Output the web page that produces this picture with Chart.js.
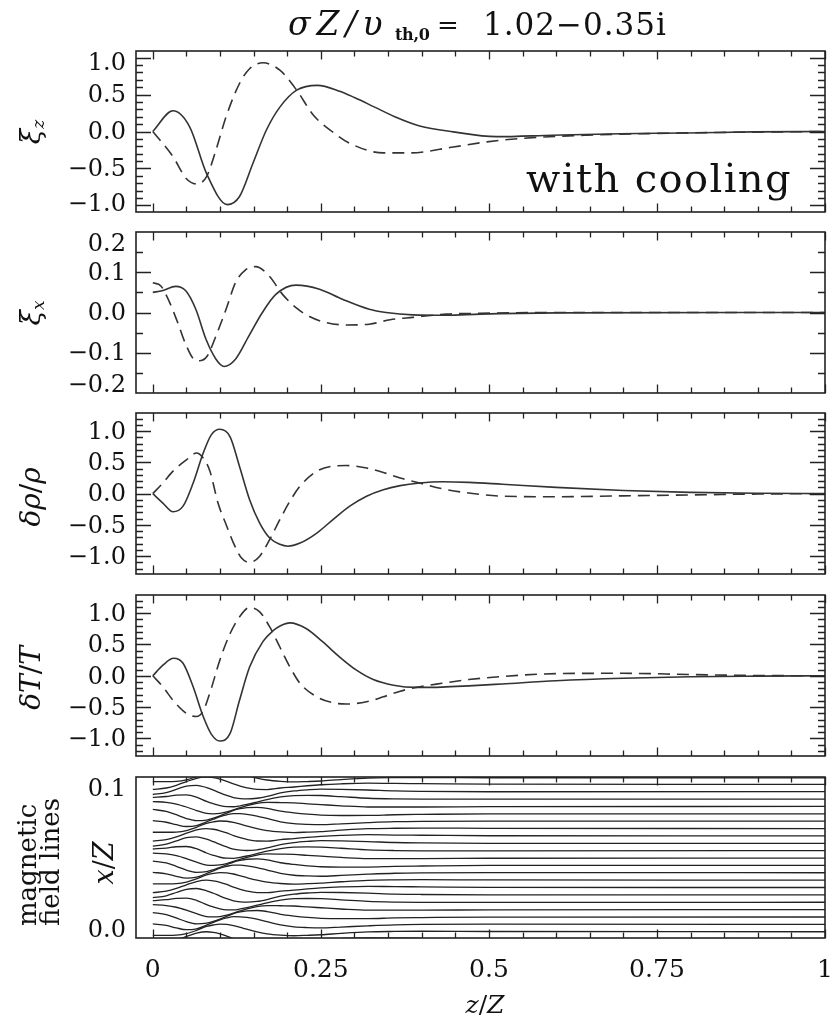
<!DOCTYPE html>
<html><head><meta charset="utf-8">
<script src="https://cdn.jsdelivr.net/npm/chart.js@4.4.0/dist/chart.umd.min.js"></script>
<style>
body{margin:0;background:#fff;width:837px;height:1019px;position:relative;overflow:hidden;font-family:'DejaVu Serif',serif;color:#111;}
canvas{position:absolute;left:0;}
.lbl{position:absolute;white-space:nowrap;line-height:1;}
.rot{transform:translate(-50%,-50%) rotate(-90deg);transform-origin:center;}
</style></head><body>

<script>
// ---------------- DATA ----------------
// panel 1: xi_z (solid = real part, dashed = imaginary part)
const z_xiz_re = [0,0.030,0.055,0.080,0.1107,0.129,0.149,0.169,0.189,0.214,0.245,0.278,0.30,0.33,0.36,0.397,0.447,0.511,0.595,0.695,0.794,0.893,1.0];
const xiz_re   = [0,0.28,0.06,-0.57,-0.99,-0.88,-0.43,0.02,0.33,0.56,0.625,0.545,0.46,0.33,0.20,0.075,-0.005,-0.07,-0.05,-0.03,-0.02,-0.005,0];
const z_xiz_im = [0,0.030,0.050,0.065,0.080,0.094,0.109,0.129,0.144,0.164,0.189,0.214,0.239,0.268,0.293,0.343,0.382,0.447,0.497,0.546,0.645,0.744,0.844,1.0];
const xiz_im   = [0,-0.34,-0.64,-0.71,-0.61,-0.25,0.2,0.65,0.85,0.93,0.83,0.56,0.22,-0.01,-0.16,-0.29,-0.29,-0.21,-0.14,-0.095,-0.05,-0.027,-0.013,0];

// panel 2: xi_x
const z_xix_re = [0,0.014,0.034,0.049,0.064,0.079,0.094,0.106,0.123,0.143,0.163,0.183,0.213,0.248,0.282,0.322,0.347,0.387,0.437,0.487,0.6,1.0];
const xix_re   = [0.05,0.054,0.065,0.054,0.008,-0.066,-0.116,-0.134,-0.116,-0.058,0,0.045,0.068,0.058,0.033,0.008,0,-0.006,-0.007,-0.004,-0.001,0];
const z_xix_im = [0,0.012,0.024,0.037,0.049,0.061,0.069,0.081,0.094,0.109,0.123,0.138,0.153,0.173,0.193,0.213,0.233,0.258,0.288,0.322,0.353,0.387,0.437,0.487,0.6,1.0];
const xix_im   = [0.074,0.066,0.029,-0.025,-0.079,-0.116,-0.12,-0.108,-0.058,0.008,0.074,0.106,0.114,0.091,0.045,0.012,-0.01,-0.025,-0.031,-0.029,-0.018,-0.012,-0.004,-0.002,0,0];

// panel 3: delta rho / rho
const z_rho_re = [0,0.015,0.030,0.045,0.060,0.075,0.087,0.0997,0.115,0.129,0.144,0.159,0.174,0.189,0.201,0.219,0.244,0.268,0.293,0.318,0.343,0.368,0.397,0.43,0.47,0.52,0.6,0.7,0.8,0.9,1.0];
const rho_re   = [0,-0.15,-0.29,-0.20,0.17,0.65,0.94,1.03,0.91,0.435,-0.096,-0.47,-0.71,-0.81,-0.84,-0.79,-0.63,-0.415,-0.2,-0.04,0.064,0.128,0.17,0.19,0.18,0.15,0.1,0.05,0.02,0.006,0];
const z_rho_im = [0,0.015,0.030,0.050,0.065,0.075,0.085,0.097,0.110,0.120,0.132,0.144,0.159,0.174,0.189,0.204,0.219,0.244,0.268,0.288,0.318,0.343,0.368,0.397,0.43,0.47,0.52,0.6,0.7,0.8,0.9,1.0];
const rho_im   = [0,0.17,0.36,0.54,0.65,0.57,0.36,-0.15,-0.52,-0.79,-1.03,-1.10,-1.0,-0.73,-0.415,-0.12,0.12,0.36,0.44,0.45,0.41,0.34,0.25,0.17,0.08,0.01,-0.04,-0.05,-0.035,-0.02,-0.006,0];

// panel 4: delta T / T
const z_T_re = [0,0.015,0.031,0.045,0.060,0.075,0.087,0.0997,0.115,0.129,0.144,0.164,0.179,0.19,0.204,0.228,0.253,0.278,0.303,0.328,0.358,0.392,0.43,0.47,0.52,0.6,0.7,0.8,0.9,1.0];
const T_re   = [0,0.17,0.28,0.20,-0.175,-0.65,-0.93,-1.04,-0.92,-0.39,0.14,0.55,0.72,0.80,0.845,0.755,0.54,0.30,0.09,-0.06,-0.15,-0.185,-0.18,-0.16,-0.13,-0.08,-0.04,-0.015,-0.005,0];
const z_T_im = [0,0.015,0.030,0.050,0.065,0.075,0.085,0.0997,0.115,0.129,0.144,0.159,0.174,0.189,0.204,0.219,0.244,0.268,0.288,0.318,0.343,0.368,0.392,0.43,0.47,0.52,0.6,0.7,0.8,0.9,1.0];
const T_im   = [0,-0.175,-0.39,-0.6,-0.65,-0.56,-0.27,0.25,0.675,0.94,1.09,1.02,0.78,0.46,0.14,-0.12,-0.335,-0.43,-0.45,-0.415,-0.335,-0.245,-0.185,-0.12,-0.06,-0.01,0.035,0.04,0.02,0.005,0];

// panel 5: magnetic field lines. Each line = its far-field height + the wiggle
// of its family (7 families repeat down the panel), wiggles in units of 0.001 x/Z
const z_field = [0,0.02,0.035,0.05,0.065,0.08,0.09,0.1,0.11,0.12,0.13,0.14,0.155,0.17,0.19,0.21,0.23,0.25,0.28,0.32,0.36,0.4,0.5,1.0];
const fieldBase = [0.0994,0.09545,0.09087,0.08629,0.08171,0.07714,0.07256,0.06798,0.0634,0.05883,0.05425,0.04967,
                   0.04509,0.04052,0.03594,0.03136,0.02678,0.0222,0.01763,0.01305,0.00847,0.00389,-0.00068,-0.00526];
const fieldFamily = [5,6,0,1,2,3,4,5,6,0,1,2,3,4,5,6,0,1,2,3,4,5,6,0];
const fieldWiggle = [
  [-1.75,-0.55,1.48,3.45,3.98,2.53,1.01,-0.71,-2.29,-3.69,-4.30,-4.48,-4.06,-2.88,-0.79,0.45,1.17,1.61,1.48,1.07,0.50,0.25,-0.02,0],
  [1.04,1.60,2.42,2.57,1.21,-1.45,-2.90,-4.09,-4.70,-4.77,-4.17,-3.32,-1.85,-0.32,1.32,2.20,2.32,2.21,1.50,0.50,0.08,-0.08,-0.09,0],
  [3.05,2.52,1.47,-0.34,-2.55,-4.34,-4.57,-4.29,-3.44,-2.10,-0.76,0.47,1.85,2.53,2.41,2.24,1.66,1.15,0.39,-0.35,-0.33,-0.34,-0.14,0],
  [2.69,1.51,-0.57,-2.92,-4.28,-3.86,-2.73,-1.24,0.39,2.09,3.15,3.81,4.04,3.38,1.65,0.58,-0.24,-0.83,-1.06,-1.02,-0.58,-0.38,-0.04,0],
  [0.28,-0.66,-2.20,-3.32,-2.78,-0.45,1.21,2.80,3.98,4.75,4.71,4.29,3.20,1.67,-0.38,-1.54,-1.99,-2.17,-1.66,-0.90,-0.30,-0.06,0.09,0],
  [-2.30,-2.31,-2.16,-1.22,0.79,3.26,4.19,4.68,4.53,3.81,2.72,1.55,-0.04,-1.27,-2.09,-2.48,-2.22,-1.87,-1.01,-0.10,0.19,0.30,0.14,0],
  [-3.19,-2.28,-0.60,1.67,3.70,4.57,4.14,3.21,1.88,0.22,-1.12,-2.20,-3.15,-3.23,-2.29,-1.65,-0.88,-0.25,0.34,0.75,0.53,0.43,0.10,0]
];

// tick labels
const xTickValues = [0,0.25,0.5,0.75,1];
const xTickLabels = ['0','0.25','0.5','0.75','1'];
const yTicks1 = [1.0,0.5,0.0,-0.5,-1.0];
const yTicks2 = [0.2,0.1,0.0,-0.1,-0.2];
const yTicks3 = [1.0,0.5,0.0,-0.5,-1.0];
const yTicks4 = [1.0,0.5,0.0,-0.5,-1.0];
const yTicks5 = [0.1,0.0];

// ---------------- LAYOUT ----------------
const W = 837, PLEFT = 136, PRIGHT = 825, PH = 161, PAD = 16;
const tops = [51, 232, 413, 595, 777];
const INK = '#222';
const fmt = v => (v < 0 ? '\u2212' : '') + Math.abs(v).toFixed(1);
const pairs = (zs, vs) => zs.map((z, i) => ({x: z, y: vs[i]}));

const frame = {
  id: 'frame',
  afterDatasetsDraw(chart, args, o) {
    const {ctx, chartArea: a, scales} = chart;
    const xs = scales.x, ys = scales.y;
    ctx.save();
    ctx.strokeStyle = INK;
    ctx.lineWidth = 1.3;
    for (let k = 0; k <= 20; k++) {
      const v = k * 0.05;
      const px = Math.round(xs.getPixelForValue(v)) + 0.5;
      const len = (k % 5 === 0) ? 8.5 : 5.5;
      ctx.beginPath();
      ctx.moveTo(px, a.top); ctx.lineTo(px, a.top + len);
      ctx.moveTo(px, a.bottom); ctx.lineTo(px, a.bottom - len);
      ctx.stroke();
    }
    if (o.yMinorStep) {
      const n = Math.round((o.yMax - o.yMin) / o.yMinorStep) + 2;
      const start = Math.ceil(o.yMin / o.yMinorStep) * o.yMinorStep;
      for (let k = 0; k <= n; k++) {
        const v = start + k * o.yMinorStep;
        const py = ys.getPixelForValue(v);
        if (py < a.top + 2 || py > a.bottom - 2) continue;
        const r = Math.abs(v / o.yMajorStep - Math.round(v / o.yMajorStep)) < 1e-6;
        const len = r ? 15 : 7;
        const y = Math.round(py) + 0.5;
        ctx.beginPath();
        ctx.moveTo(a.left, y); ctx.lineTo(a.left + len, y);
        ctx.moveTo(a.right, y); ctx.lineTo(a.right - len, y);
        ctx.stroke();
      }
    }
    ctx.lineWidth = 1.6;
    ctx.strokeRect(a.left, a.top, a.right - a.left, a.bottom - a.top);
    ctx.fillStyle = '#111';
    ctx.font = '24px "DejaVu Serif"';
    ctx.textAlign = 'right';
    ctx.textBaseline = 'middle';
    o.yLabels.forEach(v => {
      let py = ys.getPixelForValue(v);
      py = Math.max(a.top + 11, Math.min(a.bottom - 9, py));
      ctx.fillText(o.labelFmt(v), 126, py + 1.5);
    });
    if (o.xLabels) {
      ctx.font = '25px "DejaVu Serif"';
      ctx.textAlign = 'center';
      xTickValues.forEach((v, i) => ctx.fillText(xTickLabels[i], xs.getPixelForValue(v), a.bottom + 32.5));
    }
    ctx.restore();
  }
};

function makePanel(idx, datasets, yMin, yMax, yTicks, yMajorStep, yMinorStep, isLast) {
  const c = document.createElement('canvas');
  const bottomPad = isLast ? 60 : PAD;
  const h = PAD + PH + bottomPad;
  c.width = W; c.height = h;
  c.style.top = (tops[idx] - PAD) + 'px';
  c.style.width = W + 'px'; c.style.height = h + 'px';
  document.body.appendChild(c);
  new Chart(c, {
    type: 'line',
    data: {datasets},
    options: {
      responsive: false, animation: false, events: [], devicePixelRatio: 1,
      layout: {padding: {top: PAD, right: W - PRIGHT, bottom: bottomPad, left: 0}},
      plugins: {legend: {display: false}, tooltip: {enabled: false},
        frame: {yMin, yMax, yMajorStep, yMinorStep, yLabels: yTicks, labelFmt: fmt, xLabels: isLast}},
      elements: {point: {radius: 0}, line: {cubicInterpolationMode: 'monotone'}},
      scales: {
        x: {type: 'linear', min: -0.025, max: 1.0, display: false},
        y: {type: 'linear', min: yMin, max: yMax, display: true,
            grid: {display: false, drawTicks: false}, border: {display: false},
            ticks: {display: false},
            afterFit: s => { s.width = PLEFT; }}
      }
    },
    plugins: [frame]
  });
}

const solid = (zs, vs) => ({data: pairs(zs, vs), borderColor: '#333', borderWidth: 1.6, fill: false});
const dashed = (zs, vs) => ({data: pairs(zs, vs), borderColor: '#333', borderWidth: 1.6, borderDash: [12, 7], fill: false});

makePanel(0, [solid(z_xiz_re, xiz_re), dashed(z_xiz_im, xiz_im)], -1.09, 1.09, yTicks1, 0.5, 0.1, false);
makePanel(1, [solid(z_xix_re, xix_re), dashed(z_xix_im, xix_im)], -0.2, 0.2, yTicks2, 0.1, 0.05, false);
makePanel(2, [solid(z_rho_re, rho_re), dashed(z_rho_im, rho_im)], -1.285, 1.29, yTicks3, 0.5, 0.1, false);
makePanel(3, [solid(z_T_re, T_re), dashed(z_T_im, T_im)], -1.28, 1.29, yTicks4, 0.5, 0.1, false);
const fieldSets = fieldBase.map((b, i) => ({
  data: z_field.map((z, j) => ({x: z, y: b + fieldWiggle[fieldFamily[i]][j] * 0.001})),
  borderColor: '#222', borderWidth: 1.3, fill: false
}));
makePanel(4, fieldSets, 0, 0.1, yTicks5, 1, 0, true);
</script>

<div class="lbl" style="left:288px;top:7px;font-size:33px;font-style:italic;letter-spacing:6px;">σZ/υ</div>
<div class="lbl" style="left:395px;top:27px;font-size:16px;font-weight:bold;letter-spacing:-0.3px;">th,0</div>
<div class="lbl" style="left:437px;top:12px;font-size:26px;">=</div>
<div class="lbl" style="left:483px;top:9px;font-size:31px;letter-spacing:1px;">1.02−0.35i</div>

<div class="lbl" style="right:45px;top:158px;font-size:40px;letter-spacing:1.4px;">with cooling</div>

<div class="lbl rot" style="left:32px;top:132px;font-size:28px;"><i>ξ<sub style="font-size:17px;vertical-align:-4px">z</sub></i></div>
<div class="lbl rot" style="left:32px;top:313px;font-size:28px;"><i>ξ<sub style="font-size:17px;vertical-align:-4px">x</sub></i></div>
<div class="lbl rot" style="left:31px;top:497px;font-size:28px;"><i>δρ</i>/<i>ρ</i></div>
<div class="lbl rot" style="left:31px;top:678px;font-size:28px;"><i>δT</i>/<i>T</i></div>
<div class="lbl rot" style="left:39px;top:862px;font-size:26px;line-height:23px;text-align:left;">magnetic<br>field lines</div>
<div class="lbl rot" style="left:103px;top:863px;font-size:27px;"><i>x</i>/<i>Z</i></div>
<div class="lbl" style="left:485px;top:992px;transform:translateX(-50%);font-size:25px;"><i>z</i>/<i>Z</i></div>
</body></html>
